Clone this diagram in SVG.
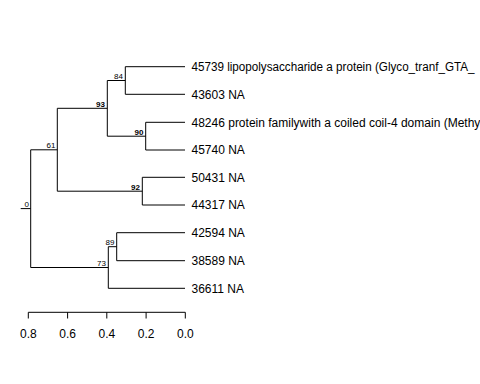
<svg xmlns="http://www.w3.org/2000/svg" width="480" height="384" viewBox="0 0 480 384">
<style>
.e{stroke:#000;stroke-width:1;fill:none}
.tip{font-family:"Liberation Sans",Arial,sans-serif;font-size:12px;fill:#000}
.nl{font-family:"Liberation Sans",Arial,sans-serif;font-size:8px;fill:#000;text-anchor:end}
.b{font-weight:bold}
.ax{font-family:"Liberation Sans",Arial,sans-serif;font-size:12px;fill:#000;text-anchor:middle}
</style>
<rect width="480" height="384" fill="#fff"/>
<g id="edges">
<path class="e" d="M20.7 208.6H30.7 M30.7 149.8V267.5 M30.7 149.8H57.3 M30.7 267.5H108.3"/>
<path class="e" d="M57.3 108.3V191.2 M57.3 108.3H107.3 M57.3 191.2H142.3"/>
<path class="e" d="M107.3 80.5V136.2 M107.3 80.5H125.3 M107.3 136.2H145.7"/>
<path class="e" d="M125.3 66.7V94.3 M125.3 66.7H185 M125.3 94.3H185"/>
<path class="e" d="M145.7 122.3V150 M145.7 122.3H185 M145.7 150H185"/>
<path class="e" d="M142.3 177.3V205 M142.3 177.3H185 M142.3 205H185"/>
<path class="e" d="M108.3 246.7V288.3 M108.3 246.7H116.7 M108.3 288.3H185"/>
<path class="e" d="M116.7 232.7V260.7 M116.7 232.7H185 M116.7 260.7H185"/>
</g>
<g id="node-labels">
<text class="nl" x="29" y="207">0</text>
<text class="nl" x="55.5" y="148">61</text>
<text class="nl b" x="105" y="106.5">93</text>
<text class="nl" x="123" y="78.5">84</text>
<text class="nl b" x="143.5" y="134.5">90</text>
<text class="nl b" x="140" y="189.5">92</text>
<text class="nl" x="106" y="265.5">73</text>
<text class="nl" x="114.5" y="244.5">89</text>
</g>
<g id="tips">
<text class="tip" x="191.5" y="71" textLength="283" lengthAdjust="spacingAndGlyphs">45739 lipopolysaccharide a protein (Glyco_tranf_GTA_</text>
<text class="tip" x="191.5" y="98.6">43603 NA</text>
<text class="tip" x="191.5" y="126.6">48246 protein familywith a coiled coil-4 domain (Methy</text>
<text class="tip" x="191.5" y="154.3">45740 NA</text>
<text class="tip" x="191.5" y="181.6">50431 NA</text>
<text class="tip" x="191.5" y="209.3">44317 NA</text>
<text class="tip" x="191.5" y="237">42594 NA</text>
<text class="tip" x="191.5" y="265">38589 NA</text>
<text class="tip" x="191.5" y="292.6">36611 NA</text>
</g>
<g id="axis">
<path class="e" d="M28.3 312.3H185.3 M28.3 312.3V318.5 M67.6 312.3V318.5 M106.8 312.3V318.5 M146.1 312.3V318.5 M185.3 312.3V318.5"/>
<text class="ax" x="28.3" y="338">0.8</text>
<text class="ax" x="67.6" y="338">0.6</text>
<text class="ax" x="106.8" y="338">0.4</text>
<text class="ax" x="146.1" y="338">0.2</text>
<text class="ax" x="185.3" y="338">0.0</text>
</g>
</svg>
